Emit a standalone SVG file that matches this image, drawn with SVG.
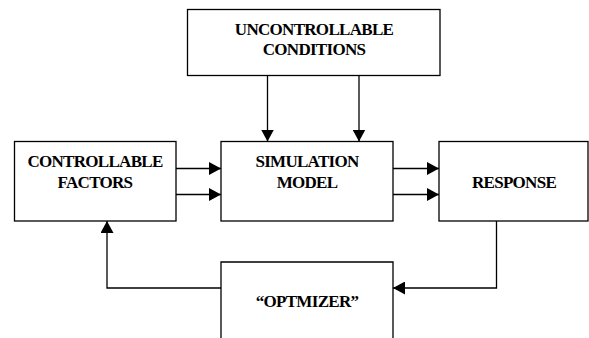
<svg xmlns="http://www.w3.org/2000/svg" width="589" height="338" viewBox="0 0 589 338">
<style>
.box{fill:#fff;stroke:#000;stroke-width:1.3}
.lbl{font-family:"Liberation Serif","Times New Roman",serif;font-weight:bold;font-size:17px;fill:#000;text-anchor:middle;letter-spacing:-0.7px}
.ln{fill:none;stroke:#000;stroke-width:1.3}
</style>
<defs>
<marker id="ah" markerUnits="userSpaceOnUse" markerWidth="13" markerHeight="13" refX="12" refY="6.5" orient="auto">
<path d="M0,0 L12,6.5 L0,13 Z" fill="#000"/>
</marker>
</defs>
<rect width="589" height="338" fill="#fff"/>
<g id="connectors">
<line class="ln" x1="267.5" y1="75.5" x2="267.5" y2="141.5" marker-end="url(#ah)"/>
<line class="ln" x1="359" y1="75.5" x2="359" y2="141.5" marker-end="url(#ah)"/>
<line class="ln" x1="176" y1="168.5" x2="221" y2="168.5" marker-end="url(#ah)"/>
<line class="ln" x1="176" y1="194.5" x2="221" y2="194.5" marker-end="url(#ah)"/>
<line class="ln" x1="393" y1="168.5" x2="439" y2="168.5" marker-end="url(#ah)"/>
<line class="ln" x1="393" y1="194.5" x2="439" y2="194.5" marker-end="url(#ah)"/>
<polyline class="ln" points="496.5,221 496.5,288 393,288" marker-end="url(#ah)"/>
<polyline class="ln" points="221,288 107,288 107,221" marker-end="url(#ah)"/>
</g>
<g id="uncontrollable">
<rect class="box" x="187.5" y="9.5" width="252.5" height="66"/>
<text class="lbl" x="314" y="34.5">UNCONTROLLABLE</text>
<text class="lbl" x="314" y="55">CONDITIONS</text>
</g>
<g id="controllable">
<rect class="box" x="14.5" y="141.5" width="161.5" height="79.5"/>
<text class="lbl" x="95" y="167">CONTROLLABLE</text>
<text class="lbl" x="95" y="187.5">FACTORS</text>
</g>
<g id="simulation">
<rect class="box" x="221" y="141.5" width="172" height="79.5"/>
<text class="lbl" x="307" y="167">SIMULATION</text>
<text class="lbl" x="307" y="187.5">MODEL</text>
</g>
<g id="response">
<rect class="box" x="439" y="141.5" width="149" height="79.5"/>
<text class="lbl" x="514" y="187.5">RESPONSE</text>
</g>
<g id="optimizer">
<path class="ln" d="M221,340 V262 H393 V340"/>
<text class="lbl" x="307" y="307">“OPTMIZER”</text>
</g>
</svg>
